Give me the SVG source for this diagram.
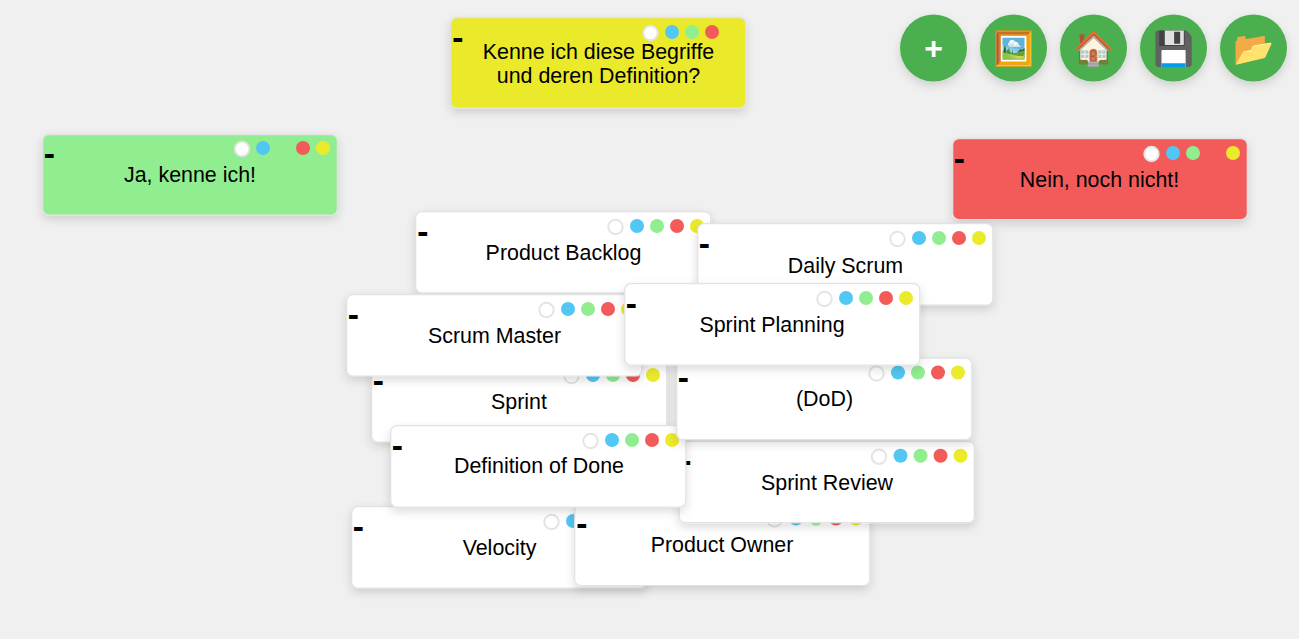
<svg xmlns="http://www.w3.org/2000/svg" width="1299" height="639" viewBox="0 0 1299 639">
<style>
text{font-family:"Liberation Sans",Arial,sans-serif;fill:#000}
.c{stroke:#e2e2e2;stroke-width:1.2;filter:url(#s)}
.t{font-size:21.4px;text-anchor:middle}
.m{font-family:"DejaVu Sans",sans-serif;font-size:28px;font-weight:bold}
.w{fill:#fff;stroke:#e4e4e4;stroke-width:2}
.b{fill:#53c7f3}.g{fill:#90ee90}.r{fill:#f35a5a}.y{fill:#ebea2b}
.btn{fill:#4caf50;filter:url(#s)}
.e{font-family:"Noto Color Emoji","Liberation Sans",sans-serif;font-size:33px;text-anchor:middle}
</style>
<defs>
<filter id="s" x="-20%" y="-30%" width="140%" height="170%"><feDropShadow dx="0" dy="4" stdDeviation="5" flood-color="#000" flood-opacity=".14"/></filter>
<rect id="card" x="-.3" y="-.3" width="295.100" height="81.300" rx="6"/>
<g id="dots"><circle class="w" cx="199.500" cy="15" r="7.200"/><circle class="b" cx="221" cy="14" r="7"/><circle class="g" cx="241" cy="14" r="7"/><circle class="r" cx="261" cy="14" r="7"/><circle class="y" cx="281" cy="14" r="7"/></g>
</defs>
<rect width="1299" height="639" fill="#f0f0f0"/>
<g id="connectors"/>
<g id="btn-add"><circle class="btn" cx="933.500" cy="48" r="33.500"/><text x="933.500" y="59" font-size="32" font-weight="bold" text-anchor="middle" style="fill:#fff">+</text></g>
<g id="btn-image"><circle class="btn" cx="1013.500" cy="48" r="33.500"/><text class="e" x="1013.500" y="60">🖼️</text></g>
<g id="btn-home"><circle class="btn" cx="1093.500" cy="48" r="33.500"/><text class="e" x="1093.500" y="60">🏠</text></g>
<g id="btn-save"><circle class="btn" cx="1173.500" cy="48" r="33.500"/><text class="e" x="1173.500" y="60">💾</text></g>
<g id="btn-open"><circle class="btn" cx="1253.500" cy="48" r="33.500"/><text class="e" x="1253.500" y="60">📂</text></g>

<g id="question" transform="translate(451 18)"><rect class="c y" x="-.3" y="-.3" width="295.100" height="90.300" rx="6"/><circle class="w" cx="199.500" cy="15" r="7.200"/><circle class="b" cx="221" cy="14" r="7"/><circle class="g" cx="241" cy="14" r="7"/><circle class="r" cx="261" cy="14" r="7"/><text class="m" x="1" y="29.500">-</text><text class="t" x="147.500" y="41">Kenne ich diese Begriffe</text><text class="t" x="147.500" y="65">und deren Definition?</text></g>
<g id="yes" transform="translate(43 135)"><rect class="c g" x="-.3" y="-.3" width="294.600" height="80.300" rx="6"/><circle class="w" cx="199" cy="14" r="7.200"/><circle class="b" cx="220" cy="13" r="7"/><circle class="r" cx="260" cy="13" r="7"/><circle class="y" cx="280" cy="13" r="7"/><text class="m" x="0.500" y="29">-</text><text class="t" x="147" y="47">Ja, kenne ich!</text></g>
<g id="no" transform="translate(953 139)"><rect class="c r" x="-.3" y="-.3" width="294.600" height="80.800" rx="6"/><circle class="w" cx="198.500" cy="15" r="7.200"/><circle class="b" cx="220" cy="14" r="7"/><circle class="g" cx="240" cy="14" r="7"/><circle class="y" cx="280" cy="14" r="7"/><text class="m" x="0.500" y="29.500">-</text><text class="t" x="146.500" y="48">Nein, noch nicht!</text></g>

<g id="velocity" transform="translate(352 507)"><use href="#card" class="c" fill="#fff"/><use href="#dots"/><text class="m" x="0.500" y="29.500">-</text><text class="t" x="147.500" y="48">Velocity</text></g>
<g id="product-owner" transform="translate(575 504.500)"><use href="#card" class="c" fill="#fff"/><use href="#dots"/><text class="m" x="1" y="29.500">-</text><text class="t" x="147" y="47.500">Product Owner</text></g>
<g id="sprint" transform="translate(372 361)"><use href="#card" class="c" fill="#fff"/><use href="#dots"/><text class="m" x="0.500" y="29.500">-</text><text class="t" x="147" y="48">Sprint</text></g>
<g id="sprint-review" transform="translate(679.500 441.700)"><use href="#card" class="c" fill="#fff"/><use href="#dots"/><text class="m" x="0.500" y="29.500">-</text><text class="t" x="147.500" y="48">Sprint Review</text></g>
<g id="definition-of-done" transform="translate(391 426)"><use href="#card" class="c" fill="#fff"/><use href="#dots"/><text class="m" x="0.500" y="29.500">-</text><text class="t" x="148" y="47">Definition of Done</text></g>
<g id="dod" transform="translate(677 358.500)"><use href="#card" class="c" fill="#fff"/><use href="#dots"/><text class="m" x="0.500" y="29.500">-</text><text class="t" x="147.500" y="47.500">(DoD)</text></g>
<g id="product-backlog" transform="translate(416 212)"><use href="#card" class="c" fill="#fff"/><use href="#dots"/><text class="m" x="1" y="29.500">-</text><text class="t" x="147.500" y="48">Product Backlog</text></g>
<g id="daily-scrum" transform="translate(698 224)"><use href="#card" class="c" fill="#fff"/><use href="#dots"/><text class="m" x="0.500" y="29.500">-</text><text class="t" x="147.500" y="48.500">Daily Scrum</text></g>
<g id="scrum-master" transform="translate(347 295)"><use href="#card" class="c" fill="#fff"/><use href="#dots"/><text class="m" x="0.500" y="29.500">-</text><text class="t" x="147.500" y="48">Scrum Master</text></g>
<g id="sprint-planning" transform="translate(625 284)"><use href="#card" class="c" fill="#fff"/><use href="#dots"/><text class="m" x="0.500" y="29.500">-</text><text class="t" x="147" y="48">Sprint Planning</text></g>
</svg>
